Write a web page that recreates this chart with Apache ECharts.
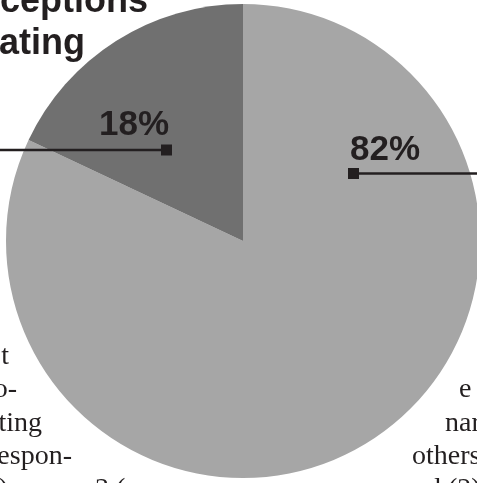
<!DOCTYPE html>
<html>
<head>
<meta charset="utf-8">
<style>
html,body{margin:0;padding:0;background:#fff;}
#chart{width:477px;height:483px;}
</style>
<script src="https://cdn.jsdelivr.net/npm/echarts@6/dist/echarts.min.js"></script>
</head>
<body>
<div id="chart"></div>
<script>
// Data
var categories = ['Other', 'Self'];
var values = [82, 18];
var sliceColors = ['#a6a6a6', '#707070'];
var titleLines = ['ceptions', 'ating'];
var leftText = ['t', 'o-', 'ting', 'espon-', ')', '3 ('];
var rightText = ['e', 'nar', 'others', 'd (2)'];

var INK = '#231f20';
var chart = echarts.init(document.getElementById('chart'), null, {renderer: 'canvas'});

function txt(str, x, y, font, align) {
  return {type: 'text', x: x, y: y, silent: true,
    style: {text: str, font: font, fill: INK, align: align || 'left', verticalAlign: 'middle'}};
}
var sansB35 = 'bold 35px "Liberation Sans", Arial, sans-serif';
var sansB36 = 'bold 36px "Liberation Sans", Arial, sans-serif';
var serif28 = '28px "Liberation Serif", "Times New Roman", serif';

var graphics = [
  // title fragments
  txt(titleLines[0], 148, 2.5, sansB36, 'right'),
  txt(titleLines[1], 85, 44.5, sansB36, 'right'),
  // body text fragments (left column line ends)
  txt(leftText[0], 9, 356.5, serif28, 'right'),
  txt(leftText[1], 17, 389.5, serif28, 'right'),
  txt(leftText[2], 42, 423.5, serif28, 'right'),
  txt(leftText[3], 72, 456.5, serif28, 'right'),
  txt(leftText[4], 8, 489.5, serif28, 'right'),
  txt(leftText[5], 95, 489.5, serif28, 'left'),
  // right column line starts
  txt(rightText[0], 459, 389.5, serif28, 'left'),
  txt(rightText[1], 445, 423.5, serif28, 'left'),
  txt(rightText[2], 412, 456.5, serif28, 'left'),
  txt(rightText[3], 427, 489.5, serif28, 'left'),
  // leader for smaller slice
  {type: 'line', silent: true, z: 10, shape: {x1: 0, y1: 150, x2: 166, y2: 150},
    style: {stroke: INK, lineWidth: 2.5}},
  {type: 'rect', silent: true, z: 10, shape: {x: 161, y: 144.5, width: 11, height: 11},
    style: {fill: INK}},
  txt(values[1] + '%', 134, 125, sansB35, 'center'),
  // leader for larger slice
  {type: 'line', silent: true, z: 10, shape: {x1: 353, y1: 173.5, x2: 477, y2: 173.5},
    style: {stroke: INK, lineWidth: 2.5}},
  {type: 'rect', silent: true, z: 10, shape: {x: 348, y: 168, width: 11, height: 11},
    style: {fill: INK}},
  txt(values[0] + '%', 385, 150, sansB35, 'center')
];
graphics.forEach(function (g) { if (g.z === undefined) g.z = 10; });

chart.setOption({
  animation: false,
  backgroundColor: '#ffffff',
  series: [{
    type: 'pie',
    center: [243, 241],
    radius: 237,
    startAngle: 90,
    clockwise: true,
    silent: true,
    label: {show: false},
    labelLine: {show: false},
    itemStyle: {borderWidth: 0},
    emphasis: {disabled: true},
    data: categories.map(function (c, i) {
      return {name: c, value: values[i], itemStyle: {color: sliceColors[i]}};
    })
  }],
  graphic: graphics
});
</script>
</body>
</html>
